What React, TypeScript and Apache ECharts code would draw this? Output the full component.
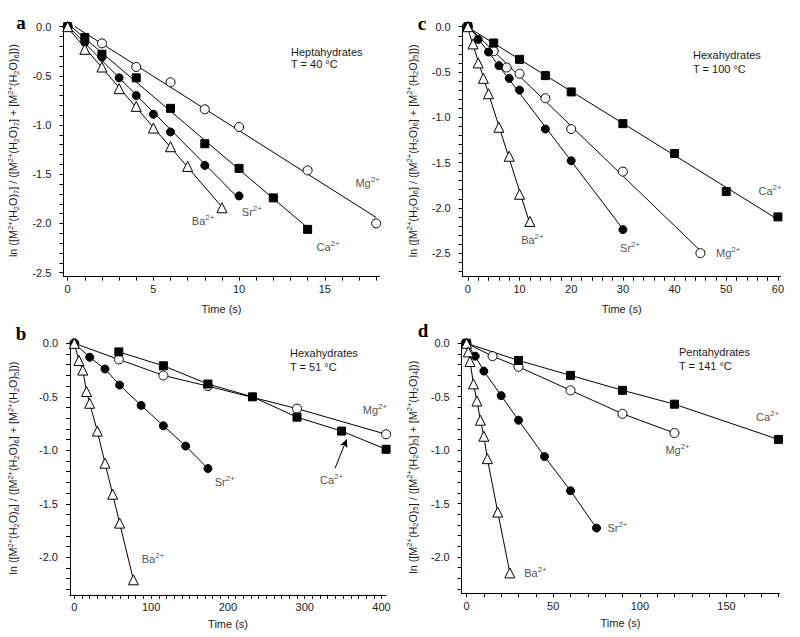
import React, { useEffect, useRef } from "react";
import * as echarts from "echarts";

// ---------------- data (time in s, ln ratio) ----------------
// Panel a: heptahydrates, 40 °C
const aMgTime = [0, 2, 4, 6, 8, 10, 14, 18];
const aMgLn = [0, -0.17, -0.41, -0.565, -0.84, -1.02, -1.46, -2.0];
const aCaTime = [0, 1, 2, 4, 6, 8, 10, 12, 14];
const aCaLn = [0, -0.11, -0.28, -0.52, -0.83, -1.19, -1.44, -1.74, -2.06];
const aSrTime = [0, 1, 2, 3, 4, 5, 6, 8, 10];
const aSrLn = [0, -0.16, -0.31, -0.52, -0.7, -0.89, -1.07, -1.41, -1.72];
const aBaTime = [0, 1, 2, 3, 4, 5, 6, 7, 9];
const aBaLn = [0, -0.23, -0.41, -0.63, -0.81, -1.03, -1.22, -1.42, -1.84];

// Panel b: hexahydrates, 51 °C
const bMgTime = [0, 58, 116, 174, 290, 406];
const bMgLn = [0, -0.15, -0.3, -0.4, -0.61, -0.85];
const bCaTime = [58, 116, 174, 232, 290, 348, 406];
const bCaLn = [-0.08, -0.21, -0.38, -0.5, -0.69, -0.82, -0.99];
const bSrTime = [0, 20, 40, 59, 87, 116, 145, 174];
const bSrLn = [0, -0.13, -0.24, -0.39, -0.58, -0.77, -0.96, -1.17];
const bBaTime = [0, 6, 11, 16, 20, 30, 40, 50, 59, 77];
const bBaLn = [0, -0.16, -0.25, -0.45, -0.56, -0.82, -1.12, -1.41, -1.68, -2.21];

// Panel c: hexahydrates, 100 °C
const cCaTime = [0, 5, 10, 15, 20, 30, 40, 50, 60];
const cCaLn = [0, -0.18, -0.36, -0.54, -0.72, -1.07, -1.4, -1.82, -2.1];
const cMgTime = [0, 5, 7.5, 10, 15, 20, 30, 45];
const cMgLn = [0, -0.27, -0.45, -0.52, -0.79, -1.13, -1.6, -2.5];
const cSrTime = [0, 2, 4, 6, 8, 10, 15, 20, 30];
const cSrLn = [0, -0.14, -0.28, -0.43, -0.57, -0.7, -1.13, -1.48, -2.24];
const cBaTime = [0, 1, 2, 3, 4, 6, 8, 10, 12];
const cBaLn = [0, -0.19, -0.4, -0.57, -0.74, -1.11, -1.43, -1.85, -2.15];

// Panel d: pentahydrates, 141 °C
const dCaTime = [0, 30, 60, 90, 120, 180];
const dCaLn = [0, -0.16, -0.3, -0.44, -0.57, -0.9];
const dMgTime = [0, 15, 30, 60, 90, 120];
const dMgLn = [0, -0.12, -0.22, -0.44, -0.66, -0.84];
const dSrTime = [0, 5, 10, 20, 30, 45, 60, 75];
const dSrLn = [0, -0.12, -0.26, -0.49, -0.72, -1.06, -1.38, -1.73];
const dBaTime = [0, 1, 2, 4, 6, 8, 10, 12, 18, 25];
const dBaLn = [0, -0.08, -0.17, -0.38, -0.54, -0.72, -0.87, -1.08, -1.58, -2.15];

// tick labels
const xLabelsA = [0, 5, 10, 15];
const xLabelsB = [0, 100, 200, 300, 400];
const xLabelsC = [0, 10, 20, 30, 40, 50, 60];
const xLabelsD = [0, 50, 100, 150];
const yLabelsAC = [0, -0.5, -1.0, -1.5, -2.0, -2.5];
const yLabelsBD = [0, -0.5, -1.0, -1.5, -2.0];

const ionNames = ["Mg", "Ca", "Sr", "Ba"];

// ---------------- styles / layout ----------------
const FONT = "'Liberation Sans', Arial, Helvetica, sans-serif";
const TXT = "#1a1a1a";

const markerStyle: Record<string, any> = {
  Mg: { symbol: "circle", size: 9, fill: "#fff" },
  Ca: { symbol: "rect", size: 8, fill: "#000" },
  Sr: { symbol: "circle", size: 8, fill: "#000" },
  Ba: { symbol: "triangle", size: 10, fill: "#fff" },
};

function ticks(lo: number, hi: number, step: number) {
  const n = Math.round((hi - lo) / step);
  const out: number[] = [];
  for (let i = 0; i <= n; i++) out.push(Math.round((lo + i * step) * 1e6) / 1e6);
  return out;
}

function fitLine(t: number[], v: number[]) {
  const n = t.length;
  const mt = t.reduce((s, x) => s + x, 0) / n;
  const mv = v.reduce((s, x) => s + x, 0) / n;
  let sxy = 0, sxx = 0;
  for (let i = 0; i < n; i++) {
    sxy += (t[i] - mt) * (v[i] - mv);
    sxx += (t[i] - mt) * (t[i] - mt);
  }
  const slope = sxy / sxx;
  const icpt = mv - slope * mt;
  const x0 = icpt > 0 ? -icpt / slope : t[0];
  const x1 = t[n - 1];
  return [[x0, icpt + slope * x0], [x1, icpt + slope * x1]];
}

const yTitle = (n: number, m: number) =>
  `ln ([M{sup|2+}(H{sub|2}O){sub|${n}}] / ([M{sup|2+}(H{sub|2}O){sub|${n}}] + [M{sup|2+}(H{sub|2}O){sub|${m}}]))`;

const panels = [
  {
    letter: "a", letterPos: [21, 22],
    grid: { left: 63.4, top: 24.7, width: 316.2, height: 251.9 },
    x: [-0.25, 18.2], y: [-2.54, 0.02],
    xLabels: xLabelsA, xTicks: ticks(0, 18, 1),
    yLabels: yLabelsAC, yTicks: ticks(-2.5, 0, 0.1),
    fit: true, n: 7, m: 6, yGap: 43, xGap: 27,
    header: ["Heptahydrates", "T = 40 °C"], headerPos: [291, 52, 64],
    series: { Mg: [aMgTime, aMgLn], Ca: [aCaTime, aCaLn], Sr: [aSrTime, aSrLn], Ba: [aBaTime, aBaLn] },
    ionLabels: { Mg: [17.5, -1.59], Ca: [15.2, -2.24], Sr: [10.75, -1.88], Ba: [7.9, -1.98] },
  },
  {
    letter: "c", letterPos: [422, 23],
    grid: { left: 462.7, top: 24.9, width: 317.8, height: 251.8 },
    x: [-1, 60.5], y: [-2.76, 0.02],
    xLabels: xLabelsC, xTicks: ticks(0, 60, 2),
    yLabels: yLabelsAC, yTicks: ticks(-2.7, 0, 0.1),
    fit: true, n: 6, m: 5, yGap: 43, xGap: 27,
    header: ["Hexahydrates", "T = 100 °C"], headerPos: [693, 55, 69],
    series: { Mg: [cMgTime, cMgLn], Ca: [cCaTime, cCaLn], Sr: [cSrTime, cSrLn], Ba: [cBaTime, cBaLn] },
    ionLabels: { Ca: [58.5, -1.81], Mg: [50.4, -2.5], Sr: [31.4, -2.44], Ba: [12.5, -2.35] },
  },
  {
    letter: "b", letterPos: [21, 333],
    grid: { left: 70, top: 341.2, width: 316.1, height: 253.6 },
    x: [-5.6, 406], y: [-2.35, 0.02],
    xLabels: xLabelsB, xTicks: ticks(0, 400, 10),
    yLabels: yLabelsBD, yTicks: ticks(-2.3, 0, 0.1),
    fit: false, n: 6, m: 5, yGap: 50, xGap: 24,
    header: ["Hexahydrates", "T = 51 °C"], headerPos: [290, 353, 367],
    series: { Mg: [bMgTime, bMgLn], Ca: [bCaTime, bCaLn], Sr: [bSrTime, bSrLn], Ba: [bBaTime, bBaLn] },
    ionLabels: { Mg: [391.5, -0.62], Ca: [335, -1.28], Sr: [196, -1.3], Ba: [102.5, -2.02] },
    arrow: [[339.5, -1.168], [354.7, -0.897]],
  },
  {
    letter: "d", letterPos: [423, 330],
    grid: { left: 461.7, top: 341.2, width: 317.6, height: 252 },
    x: [-2.8, 180.5], y: [-2.34, 0.02],
    xLabels: xLabelsD, xTicks: ticks(0, 180, 10),
    yLabels: yLabelsBD, yTicks: ticks(-2.3, 0, 0.1),
    fit: false, n: 5, m: 4, yGap: 42, xGap: 24,
    header: ["Pentahydrates", "T = 141 °C"], headerPos: [679, 352, 366],
    series: { Mg: [dMgTime, dMgLn], Ca: [dCaTime, dCaLn], Sr: [dSrTime, dSrLn], Ba: [dBaTime, dBaLn] },
    ionLabels: { Ca: [173.7, -0.69], Mg: [121.8, -1.0], Sr: [87.1, -1.73], Ba: [39.8, -2.15] },
  },
];

function buildOption() {
  const grid: any[] = [];
  const xAxis: any[] = [];
  const yAxis: any[] = [];
  const series: any[] = [];
  const graphic: any[] = [];

  panels.forEach((p: any, i) => {
    grid.push({ ...p.grid, containLabel: false, outerBoundsMode: "none" });
    xAxis.push({
      gridIndex: i, type: "value", min: p.x[0], max: p.x[1],
      axisLine: { show: true, onZero: false, lineStyle: { color: "#000", width: 1 } },
      axisTick: { show: true, inside: false, length: 4, customValues: p.xTicks, lineStyle: { color: "#000", width: 1 } },
      axisLabel: { customValues: p.xLabels, fontSize: 11, color: TXT, fontFamily: FONT, margin: 7, formatter: (v: number) => String(v) },
      splitLine: { show: false },
      name: "Time (s)", nameLocation: "middle", nameGap: p.xGap,
      nameTextStyle: { fontSize: 11, color: TXT, fontFamily: FONT },
    });
    yAxis.push({
      gridIndex: i, type: "value", min: p.y[0], max: p.y[1],
      axisLine: { show: true, onZero: false, lineStyle: { color: "#000", width: 1 } },
      axisTick: { show: true, inside: false, length: 4, customValues: p.yTicks, lineStyle: { color: "#000", width: 1 } },
      axisLabel: { customValues: p.yLabels, fontSize: 11, color: TXT, fontFamily: FONT, margin: 12, formatter: (v: number) => v.toFixed(1) },
      splitLine: { show: false },
      name: yTitle(p.n, p.m), nameLocation: "middle", nameRotate: 90, nameGap: p.yGap,
      nameTextStyle: {
        fontSize: 10.8, color: TXT, fontFamily: FONT, lineHeight: 14,
        rich: {
          sup: { fontSize: 7.5, lineHeight: 7.5, verticalAlign: "top", fontFamily: FONT, color: TXT },
          sub: { fontSize: 7.5, lineHeight: 7.5, verticalAlign: "bottom", fontFamily: FONT, color: TXT },
        },
      },
    });

    ionNames.forEach((ion) => {
      const [t, v] = p.series[ion];
      const ms = markerStyle[ion];
      const pts = t.map((x: number, k: number) => [x, v[k]]);
      if (p.fit) {
        series.push({
          type: "line", xAxisIndex: i, yAxisIndex: i, data: fitLine(t, v), showSymbol: false,
          symbol: "none", lineStyle: { color: "#000", width: 1 }, z: 2, silent: true,
        });
        series.push({
          type: "scatter", xAxisIndex: i, yAxisIndex: i, data: pts, symbol: ms.symbol, symbolSize: ms.size,
          itemStyle: { color: ms.fill, borderColor: "#000", borderWidth: 1, opacity: 1 }, z: 3, silent: true,
        });
      } else {
        const s: any = {
          type: "line", xAxisIndex: i, yAxisIndex: i, data: pts, showSymbol: true, symbol: ms.symbol,
          symbolSize: ms.size, lineStyle: { color: "#000", width: 1 },
          itemStyle: { color: ms.fill, borderColor: "#000", borderWidth: 1 }, z: 3, silent: true,
        };
        if (ion === "Ca" && p.arrow) {
          s.markLine = {
            silent: true, symbol: ["none", "arrow"], symbolSize: [6, 8],
            lineStyle: { type: "solid", color: "#000", width: 1 }, label: { show: false },
            data: [[{ coord: p.arrow[0] }, { coord: p.arrow[1] }]],
          };
        }
        series.push(s);
      }
    });

    series.push({
      type: "scatter", xAxisIndex: i, yAxisIndex: i, symbolSize: 0, silent: true, z: 4,
      itemStyle: { color: "rgba(0,0,0,0)" },
      data: Object.keys(p.ionLabels).map((ion) => ({ name: ion, value: p.ionLabels[ion] })),
      label: {
        show: true, position: "inside", formatter: (q: any) => `${q.name}{sup|2+}`,
        fontSize: 11, color: TXT, fontFamily: FONT, lineHeight: 15,
        rich: { sup: { fontSize: 8, lineHeight: 8, verticalAlign: "top", fontFamily: FONT, color: TXT } },
      },
    });

    graphic.push({
      type: "text", x: p.letterPos[0], y: p.letterPos[1], silent: true,
      style: { text: p.letter, fontSize: 19, fontWeight: "bold", fontFamily: "'Liberation Serif', 'Times New Roman', serif", fill: "#000", align: "center", verticalAlign: "middle" },
    });
    graphic.push({
      type: "text", x: p.headerPos[0], y: p.headerPos[1], silent: true,
      style: { text: p.header[0], fontSize: 11, fontFamily: FONT, fill: TXT, align: "left", verticalAlign: "middle" },
    });
    graphic.push({
      type: "text", x: p.headerPos[0], y: p.headerPos[2], silent: true,
      style: { text: p.header[1], fontSize: 11, fontFamily: FONT, fill: TXT, align: "left", verticalAlign: "middle" },
    });
  });

  return {
    animation: false,
    backgroundColor: "#fff",
    textStyle: { fontFamily: FONT },
    grid, xAxis, yAxis, series, graphic,
  };
}

export default function App() {
  const ref = useRef<HTMLDivElement>(null);
  useEffect(() => {
    if (!ref.current) return;
    const chart = echarts.init(ref.current, undefined, { renderer: "svg", width: 800, height: 637 });
    chart.setOption(buildOption() as any);
    return () => chart.dispose();
  }, []);
  return (
    <div
      ref={ref}
      style={{ position: "absolute", left: 0, top: 0, width: 800, height: 637, background: "#fff" }}
    />
  );
}
